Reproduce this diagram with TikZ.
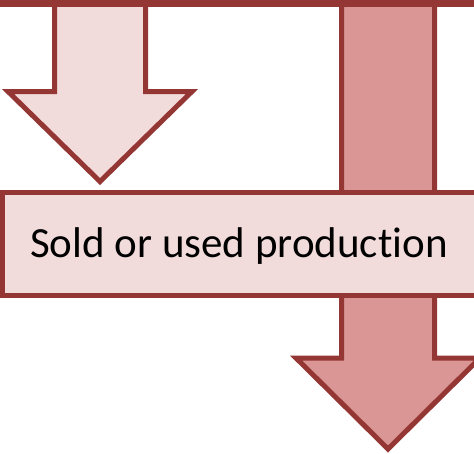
\documentclass[tikz,border=0pt]{standalone}
\usepackage{fontspec}
\setmainfont{Carlito}[Ligatures={NoCommon}]
\definecolor{dred}{HTML}{943634}
\definecolor{lpink}{HTML}{F2DCDB}
\definecolor{mpink}{HTML}{D99694}
\begin{document}
\begin{tikzpicture}[x=1pt,y=-1pt]
\tikzset{outl/.style={draw=dred,line width=5pt,line join=miter}}
\useasboundingbox (0,0) rectangle (474,453);
\clip (0,0) rectangle (474,453);
% right arrow (behind the box)
\draw[outl,fill=mpink] (341.5,-10) -- (341.5,358) -- (296,358) -- (388,449) -- (480,358) -- (434.5,358) -- (434.5,-10) -- cycle;
% left arrow
\draw[outl,fill=lpink] (54.5,-10) -- (54.5,91.5) -- (8,91.5) -- (100,181.5) -- (192,91.5) -- (145.5,91.5) -- (145.5,-10) -- cycle;
% box
\node[outl,fill=lpink,minimum width=487.5pt,minimum height=103.5pt,inner sep=0pt,outer sep=0pt,anchor=north west] (box) at (2.5,192) {};
\node[anchor=base,inner sep=0pt,font=\fontsize{43}{51}\selectfont] (label) at (239,257) {Sold or used production};
% top bar
\fill[dred] (-10,-10) rectangle (490,7);
\end{tikzpicture}
\end{document}
